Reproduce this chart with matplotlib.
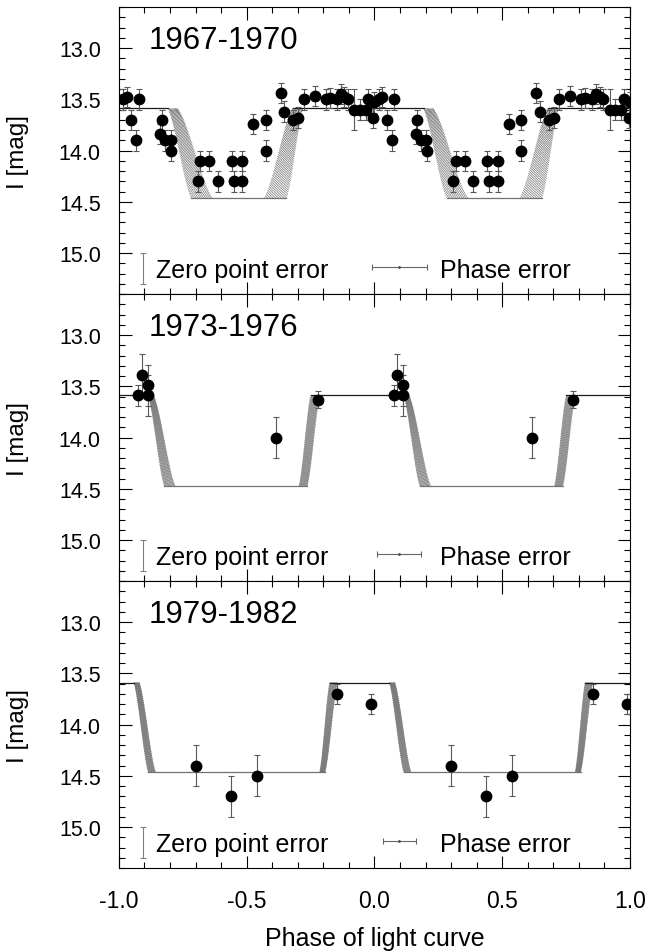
import numpy as np
import matplotlib
matplotlib.use("Agg")
import matplotlib.pyplot as plt
from matplotlib.ticker import MultipleLocator

plt.rcParams['font.family'] = ['Liberation Sans', 'DejaVu Sans']

# periodes per paneel
titles = ['1967-1970', '1973-1976', '1979-1982']

# datapunten in fase -1..0 (worden nog eens op fase+1 getekend)
phase1 = [-0.983, -0.969, -0.952, -0.932, -0.923, -0.838, -0.832, -0.819, -0.797, -0.795,
          -0.691, -0.682, -0.647, -0.614, -0.559, -0.550, -0.517, -0.517, -0.474, -0.426,
          -0.426, -0.366, -0.353, -0.318, -0.298, -0.277, -0.233, -0.191, -0.174, -0.148,
          -0.132, -0.118, -0.105, -0.079, -0.057, -0.034, -0.024, -0.005, -0.001]
mag1 = [13.50, 13.48, 13.70, 13.90, 13.50, 13.84, 13.70, 13.90, 13.90, 14.00,
        14.30, 14.10, 14.10, 14.30, 14.10, 14.30, 14.10, 14.30, 13.74, 13.70,
        14.00, 13.44, 13.62, 13.70, 13.68, 13.50, 13.47, 13.50, 13.49, 13.50,
        13.45, 13.48, 13.50, 13.60, 13.60, 13.60, 13.50, 13.68, 13.53]
err1 = [0.1] * 33 + [0.2] + [0.1] * 5

phase2 = [-0.925, -0.910, -0.888, -0.888, -0.385, -0.222]
mag2 = [13.59, 13.39, 13.49, 13.59, 14.00, 13.63]
err2 = [0.1, 0.2, 0.2, 0.2, 0.2, 0.08]

phase3 = [-0.700, -0.563, -0.460, -0.146, -0.013]
mag3 = [14.40, 14.70, 14.50, 13.70, 13.80]
err3 = [0.2, 0.2, 0.2, 0.1, 0.1]

# modelcurve: helder/zwak niveau en begin/eind van in- en uitgang (vroegste, laatste)
bright = [13.59, 13.59, 13.59]
faint = [14.465, 14.475, 14.465]
ingress_top = [[-0.807, -0.770], [-0.885, -0.864], [-0.941, -0.920]]
ingress_bot = [[-0.716, -0.635], [-0.822, -0.780], [-0.885, -0.857]]
egress_bot = [[-0.430, -0.345], [-0.295, -0.263], [-0.214, -0.193]]
egress_top = [[-0.320, -0.280], [-0.249, -0.214], [-0.175, -0.145]]

# legenda: halve breedte van de fasefout
phase_err = [0.108, 0.087, 0.064]
zero_err = 0.15

phases = [phase1, phase2, phase3]
mags = [mag1, mag2, mag3]
errs = [err1, err2, err3]


def ramp(x0, x1, y0, y1):
    # licht gekromde overgang tussen twee niveaus
    t = np.linspace(0, 1, 15)
    s = 0.55 * t + 0.45 * (3 * t**2 - 2 * t**3)
    return list(x0 + (x1 - x0) * t), list(y0 + (y1 - y0) * s)


fig = plt.figure(figsize=(6.68, 9.53), dpi=100)
gs = fig.add_gridspec(3, 1, left=0.178, right=0.943, top=0.9916, bottom=0.0881, hspace=0)

for i in range(3):
    ax = fig.add_subplot(gs[i])
    b, f = bright[i], faint[i]

    # schaduwband van modelcurves met fase-onzekerheid
    for n, k in enumerate(np.linspace(0, 1, 24)):
        a = ingress_top[i][0] + k * (ingress_top[i][1] - ingress_top[i][0])
        bb = ingress_bot[i][0] + k * (ingress_bot[i][1] - ingress_bot[i][0])
        c = egress_bot[i][0] + k * (egress_bot[i][1] - egress_bot[i][0])
        d = egress_top[i][0] + k * (egress_top[i][1] - egress_top[i][0])
        for cyc in [0, 1]:
            for x0, x1, y0, y1 in [(a, bb, b, f), (c, d, f, b)]:
                xs, ys = ramp(x0 + cyc, x1 + cyc, y0, y1)
                ax.plot(xs, ys, color='0.35', lw=0.55,
                        ls=((n * 0.9) % 2.6, (1, 1.6)), zorder=1)

    # vlakke delen van de curve
    top_x = [[-1.0, ingress_top[i][0]]]
    bot_x = []
    for cyc in [0, 1]:
        bot_x.append([ingress_bot[i][0] + cyc, egress_bot[i][1] + cyc])
        end = ingress_top[i][0] + cyc + 1 if cyc == 0 else 1.0
        top_x.append([egress_top[i][0] + cyc, end])
    for seg in top_x:
        ax.plot(seg, [b, b], color='0.1', lw=0.9, zorder=2)
    for seg in bot_x:
        ax.plot(seg, [f, f], color='0.45', lw=0.9, zorder=2)

    # meetpunten, twee cycli
    for cyc in [0, 1]:
        ax.errorbar(np.array(phases[i]) + cyc, mags[i], yerr=errs[i], fmt='o',
                    color='black', ms=7.5, ecolor='0.35', elinewidth=0.8,
                    capsize=2.5, capthick=0.8, zorder=3)

    # legenda-elementen
    ax.errorbar([-0.905], [15.15], yerr=zero_err, fmt='none', ecolor='0.5',
                elinewidth=0.8, capsize=2.5, capthick=0.8)
    ax.text(-0.855, 15.17, 'Zero point error', fontsize=18, va='center', ha='left')
    ax.errorbar([0.097], [15.14], xerr=phase_err[i], fmt='.', color='0.3', ms=2,
                ecolor='0.4', elinewidth=0.8, capsize=2.5, capthick=0.8)
    ax.text(0.255, 15.17, 'Phase error', fontsize=18, va='center', ha='left')

    ax.text(-0.885, 13.0, titles[i], fontsize=22.5, va='baseline', ha='left')

    ax.set_xlim(-1.0, 1.0)
    ax.set_ylim(15.4, 12.6)
    ax.yaxis.set_minor_locator(MultipleLocator(0.1))
    ax.xaxis.set_major_locator(MultipleLocator(0.5))
    ax.xaxis.set_minor_locator(MultipleLocator(0.1))
    ax.set_yticks([13.0, 13.5, 14.0, 14.5, 15.0])
    ax.set_yticklabels(['13.0', '13.5', '14.0', '14.5', '15.0'])
    ax.tick_params(which='both', direction='in', top=True, right=True, width=0.8)
    ax.tick_params(which='major', length=9)
    ax.tick_params(which='minor', length=4.5)
    ax.tick_params(axis='y', labelsize=15.5, pad=13)
    ax.tick_params(axis='x', labelsize=16.5, pad=15)
    for sp in ax.spines.values():
        sp.set_linewidth(0.8)
    ax.set_ylabel('I [mag]', fontsize=17.5)
    ax.yaxis.set_label_coords(-0.175, 0.5)
    if i < 2:
        ax.tick_params(axis='x', labelbottom=False)
    else:
        ax.set_xticks([-1.0, -0.5, 0.0, 0.5, 1.0])
        ax.set_xticklabels(['-1.0', '-0.5', '0.0', '0.5', '1.0'])
        ax.set_xlabel('Phase of light curve', fontsize=18, labelpad=10)

fig.savefig('out.png', dpi=100)
